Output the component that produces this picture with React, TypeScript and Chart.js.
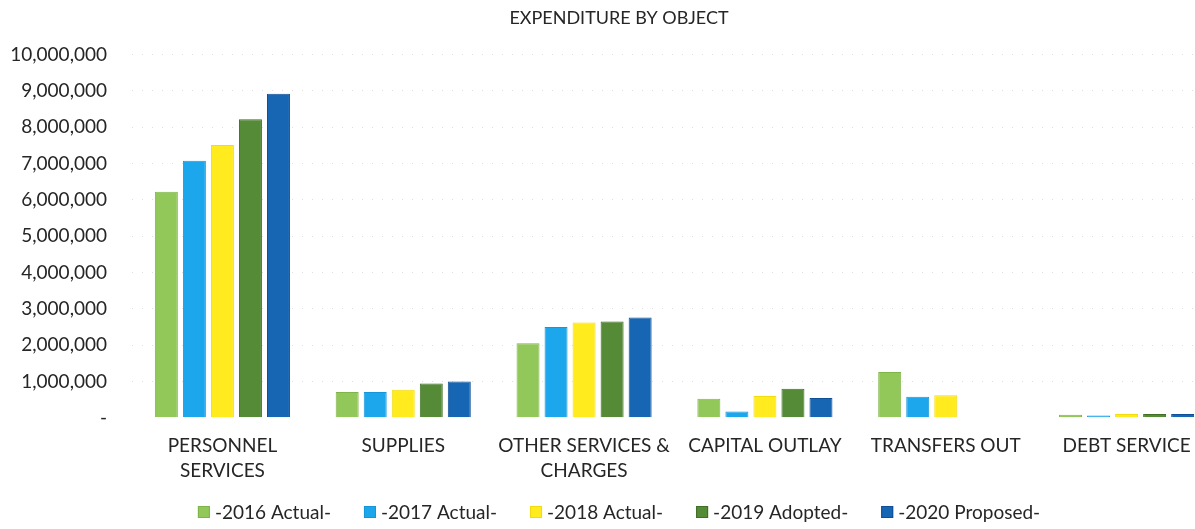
import React, { useEffect, useRef } from "react";
import { Chart, registerables } from "chart.js";

Chart.register(...registerables);

const categories: (string | string[])[] = [
  ["PERSONNEL", "SERVICES"],
  "SUPPLIES",
  ["OTHER SERVICES &", "CHARGES"],
  "CAPITAL OUTLAY",
  "TRANSFERS OUT",
  "DEBT SERVICE",
];

const seriesLabels = ["-2016 Actual-", "-2017 Actual-", "-2018 Actual-", "-2019 Adopted-", "-2020 Proposed-"];

const actual2016 = [6220000, 710000, 2050000, 520000, 1260000, 80000];
const actual2017 = [7080000, 710000, 2500000, 170000, 580000, 60000];
const actual2018 = [7510000, 770000, 2620000, 600000, 620000, 100000];
const adopted2019 = [8220000, 940000, 2650000, 800000, 0, 100000];
const proposed2020 = [8920000, 1000000, 2760000, 540000, 0, 100000];

const fills = ["#92c75a", "#1ca7ec", "#ffeb1e", "#558a36", "#1766b4"];
const borders = ["#7fb548", "#1596d8", "#f2dc10", "#3f6e25", "#0f4f95"];

const yMax = 10000000;
const yStep = 1000000;

const FONT = "Lato, 'Liberation Sans', sans-serif";
const TEXT = "#262626";

const bottomLegend = {
  id: "bottomLegend",
  afterDraw(chart: any) {
    const ctx = chart.ctx;
    ctx.save();
    ctx.font = `19px ${FONT}`;
    ctx.textBaseline = "middle";
    ctx.textAlign = "left";
    const box = 12;
    const gap = 5;
    const itemGap = 33;
    const items = chart.data.datasets.map((ds: any) => ({
      label: ds.label as string,
      fill: ds.backgroundColor as string,
      stroke: ds.borderColor as string,
      w: ctx.measureText(ds.label).width,
    }));
    const total =
      items.reduce((s: number, it: any) => s + box + gap + it.w, 0) + itemGap * (items.length - 1);
    let x = chart.width / 2 - total / 2;
    const y = chart.height - 17;
    items.forEach((it: any) => {
      ctx.fillStyle = it.fill;
      ctx.fillRect(x, y - box / 2, box, box);
      ctx.strokeStyle = it.stroke;
      ctx.lineWidth = 1;
      ctx.strokeRect(x + 0.5, y - box / 2 + 0.5, box - 1, box - 1);
      ctx.fillStyle = TEXT;
      ctx.fillText(it.label, x + box + gap, y + 1);
      x += box + gap + it.w + itemGap;
    });
    ctx.restore();
  },
};

export default function App() {
  const ref = useRef<HTMLCanvasElement | null>(null);

  useEffect(() => {
    if (!ref.current) return;
    const values = [actual2016, actual2017, actual2018, adopted2019, proposed2020];
    const chart = new Chart(ref.current, {
      type: "bar",
      data: {
        labels: categories,
        datasets: values.map((d, i) => ({
          label: seriesLabels[i],
          data: d,
          backgroundColor: fills[i],
          borderColor: borders[i],
          borderWidth: 1,
          categoryPercentage: 0.775,
          barPercentage: 0.82,
        })),
      },
      options: {
        animation: false,
        responsive: false,
        maintainAspectRatio: false,
        layout: { padding: { left: 0, right: 0, top: 0, bottom: 30 } },
        plugins: {
          title: {
            display: true,
            text: "EXPENDITURE BY OBJECT",
            color: TEXT,
            font: { family: FONT, size: 18, weight: "normal" },
            padding: { top: 7, bottom: 26 },
          },
          legend: { display: false },
          tooltip: { enabled: false },
        },
        scales: {
          x: {
            grid: { display: false, drawTicks: false },
            border: { display: false },
            ticks: {
              color: TEXT,
              font: { family: FONT, size: 19, lineHeight: 1.35 },
              padding: 15,
              maxRotation: 0,
              autoSkip: false,
            },
          },
          y: {
            min: 0,
            max: yMax,
            afterFit: (scale: any) => {
              scale.width = 132;
            },
            grid: {
              drawTicks: false,
              color: (ctx: any) => (ctx.tick && ctx.tick.value === 0 ? "rgba(0,0,0,0)" : "rgba(0,0,0,0.13)"),
              lineWidth: 1,
            },
            border: { display: false, dash: [1, 9] },
            ticks: {
              stepSize: yStep,
              padding: 25,
              color: TEXT,
              font: { family: FONT, size: 19 },
              callback: (v: any) => (Number(v) === 0 ? "-" : Number(v).toLocaleString("en-US")),
            },
          },
          yRight: {
            position: "right",
            display: true,
            min: 0,
            max: yMax,
            grid: { display: false, drawTicks: false },
            border: { display: false },
            ticks: { display: false },
            afterFit: (scale: any) => {
              scale.width = 21;
            },
          },
        },
      },
      plugins: [bottomLegend],
    });
    return () => chart.destroy();
  }, []);

  return (
    <div style={{ position: "fixed", left: 0, top: 0, width: 1195, height: 529, overflow: "hidden", background: "#fff" }}>
      <canvas ref={ref} width={1238} height={529} style={{ width: 1238, height: 529, display: "block" }} />
    </div>
  );
}
